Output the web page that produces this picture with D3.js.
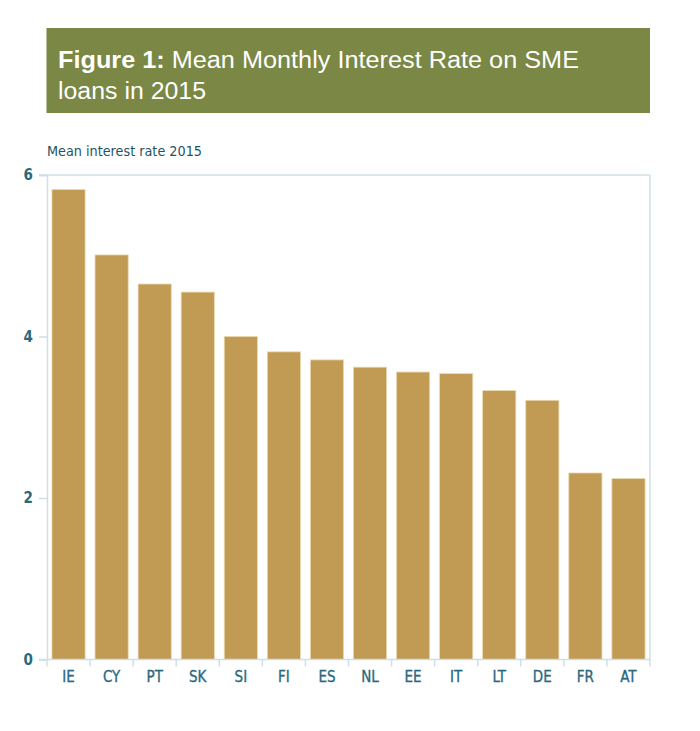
<!DOCTYPE html>
<html>
<head>
<meta charset="utf-8">
<script src="https://cdn.jsdelivr.net/npm/d3@7"></script>
<style>
  body { margin: 0; background: #fff; }
</style>
</head>
<body>
<div id="chart"></div>
<script>
// Data
const countries = ['IE', 'CY', 'PT', 'SK', 'SI', 'FI', 'ES', 'NL', 'EE', 'IT', 'LT', 'DE', 'FR', 'AT'];
const rates = [5.82, 5.01, 4.65, 4.55, 4.00, 3.81, 3.71, 3.62, 3.56, 3.54, 3.33, 3.21, 2.31, 2.24];
const yTicks = [0, 2, 4, 6];
const titleBold = 'Figure 1:';
const titleRest = ' Mean Monthly Interest Rate on SME';
const titleLine2 = 'loans in 2015';
const yTitle = 'Mean interest rate 2015';

const W = 700, H = 731;
const margin = { top: 175, right: 50, bottom: 71.5, left: 47 };
const narrow = '"Liberation Sans Narrow", "DejaVu Sans Condensed", "Roboto Condensed", "Open Sans", sans-serif';
const axisColor = '#cfdfe5';
const labelColor = '#2a687c';

const svg = d3.select('#chart').append('svg')
    .attr('width', W).attr('height', H)
    .style('background', '#fff');

// === TITLE BOX ===
svg.append('rect')
    .attr('x', 46.5).attr('y', 28).attr('width', 603.5).attr('height', 85)
    .attr('fill', '#7a8745');

const t1 = svg.append('text')
    .attr('x', 58).attr('y', 68)
    .attr('font-family', '"Liberation Sans", Arial, sans-serif')
    .attr('font-size', 23)
    .attr('fill', '#fff')
    .attr('textLength', 521).attr('lengthAdjust', 'spacingAndGlyphs');
t1.append('tspan').attr('font-weight', 'bold').text(titleBold);
t1.append('tspan').text(titleRest);

svg.append('text')
    .attr('x', 58).attr('y', 99)
    .attr('font-family', '"Liberation Sans", Arial, sans-serif')
    .attr('font-size', 23)
    .attr('fill', '#fff')
    .attr('textLength', 148).attr('lengthAdjust', 'spacingAndGlyphs')
    .text(titleLine2);

// Axis title
svg.append('text')
    .attr('x', 47).attr('y', 156)
    .attr('font-family', narrow)
    .attr('font-size', 14)
    .attr('fill', '#1d5566')
    .attr('textLength', 155).attr('lengthAdjust', 'spacingAndGlyphs')
    .text(yTitle);

// === SCALES ===
const x0 = margin.left, x1 = W - margin.right;
const yBase = H - margin.bottom;

const x = d3.scaleBand()
    .domain(countries)
    .range([x0, x1])
    .paddingInner(0.23)
    .paddingOuter(0.115);

const y = d3.scaleLinear().domain([0, 6]).range([yBase, margin.top]);

// Frame (top + right)
svg.append('line')
    .attr('x1', x0 - 8).attr('x2', x1).attr('y1', y(6)).attr('y2', y(6))
    .attr('stroke', axisColor).attr('stroke-width', 1.5);
svg.append('line')
    .attr('x1', x1).attr('x2', x1).attr('y1', y(6)).attr('y2', yBase)
    .attr('stroke', axisColor).attr('stroke-width', 1.5);

// Bars
svg.append('g').selectAll('rect')
    .data(countries)
    .join('rect')
    .attr('x', d => x(d))
    .attr('y', (d, i) => y(rates[i]))
    .attr('width', x.bandwidth())
    .attr('height', (d, i) => yBase - y(rates[i]))
    .attr('fill', '#c19a53')
    .attr('stroke', '#ead9ae')
    .attr('stroke-width', 0.8);

// Y axis
const yAxis = svg.append('g')
    .attr('transform', `translate(${x0},0)`)
    .call(d3.axisLeft(y).tickValues(yTicks).tickSize(8).tickPadding(6).tickFormat(d3.format('d')));
yAxis.select('.domain').attr('stroke', axisColor).attr('stroke-width', 1.5);
yAxis.selectAll('.tick line').attr('stroke', axisColor).attr('stroke-width', 1.5);
yAxis.selectAll('.tick text')
    .attr('fill', labelColor)
    .attr('font-family', narrow)
    .attr('font-size', 15)
    .attr('font-weight', 'bold');

// X axis: labels at band centers, ticks at band boundaries
const xAxis = svg.append('g')
    .attr('transform', `translate(0,${yBase})`)
    .call(d3.axisBottom(x).tickSize(0).tickPadding(12));
xAxis.select('.domain').remove();
xAxis.selectAll('.tick text')
    .attr('fill', labelColor)
    .attr('font-family', narrow)
    .attr('font-size', 15)
    .attr('stroke', labelColor)
    .attr('stroke-width', 0.3);

const bounds = d3.range(countries.length + 1).map(i => x0 + i * x.step());
svg.append('line')
    .attr('x1', x0 - 8).attr('x2', x1).attr('y1', yBase).attr('y2', yBase)
    .attr('stroke', axisColor).attr('stroke-width', 1.5);
svg.append('g').selectAll('line')
    .data(bounds)
    .join('line')
    .attr('x1', d => d).attr('x2', d => d)
    .attr('y1', yBase).attr('y2', yBase + 7)
    .attr('stroke', axisColor).attr('stroke-width', 1.5);
</script>
</body>
</html>
